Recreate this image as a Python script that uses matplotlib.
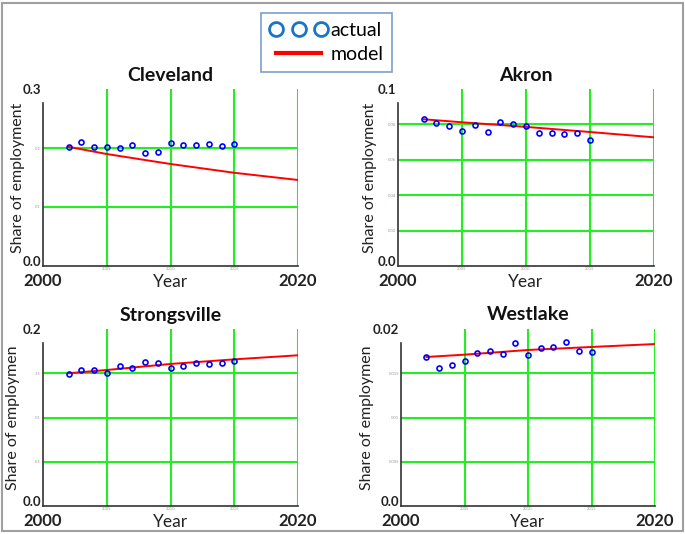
import numpy as np
import matplotlib
matplotlib.use("Agg")
import matplotlib.pyplot as plt
from matplotlib.lines import Line2D
from matplotlib.patches import Rectangle

plt.rcParams['font.family'] = ['Lato', 'DejaVu Sans']

# observed years and model anchor years
years = [2002, 2003, 2004, 2005, 2006, 2007, 2008, 2009, 2010, 2011, 2012, 2013, 2014, 2015]
model_years = [2002, 2005, 2010, 2015, 2020]

# actual share of employment
cleveland = [0.202, 0.210, 0.2017, 0.201, 0.2005, 0.2045, 0.1915, 0.1937, 0.208, 0.2057, 0.2057, 0.206, 0.204, 0.2062]
akron = [0.0831, 0.081, 0.0791, 0.0765, 0.0795, 0.0759, 0.0815, 0.0802, 0.0789, 0.0753, 0.0753, 0.0746, 0.0749, 0.0714]
strongsville = [0.1495, 0.1537, 0.1533, 0.1503, 0.1586, 0.156, 0.1631, 0.1612, 0.1556, 0.1586, 0.1616, 0.1601, 0.1616, 0.1638]
westlake = [0.0168, 0.01563, 0.0159, 0.01642, 0.01732, 0.01748, 0.01718, 0.01845, 0.01703, 0.01785, 0.01793, 0.0185, 0.01755, 0.01744]

# model lines
cleveland_model = [0.202, 0.1898, 0.1729, 0.158, 0.1458]
akron_model = [0.0829, 0.0812, 0.0786, 0.0757, 0.0727]
strongsville_model = [0.150, 0.1537, 0.1605, 0.1657, 0.1703]
westlake_model = [0.01684, 0.0171, 0.01763, 0.01797, 0.0183]

# small inner year labels
inner_years = [2005, 2010, 2015]

# panel settings: title, actual, model, ymax, y grid ticks, y labels, ylabel text
panels = [
    ("Cleveland", cleveland, cleveland_model, 0.3, [0.1, 0.2], ["0.1", "0.2"], "Share of employment"),
    ("Akron", akron, akron_model, 0.1, [0.02, 0.04, 0.06, 0.08], ["0.02", "0.04", "0.06", "0.08"], "Share of employment"),
    ("Strongsville", strongsville, strongsville_model, 0.2, [0.05, 0.1, 0.15], [".05", "0.1", ".15"], "Share of employmen"),
    ("Westlake", westlake, westlake_model, 0.02, [0.005, 0.01, 0.015], ["0.005", "0.01", "0.015"], "Share of employmen"),
]
ymax_labels = ["0.3", "0.1", "0.2", "0.02"]

W, H = 685, 534
# axes boxes in pixels: left, top, right, bottom
boxes = [(43, 89, 298, 266), (398, 89, 654, 266), (43, 329, 298, 506), (401, 329, 655, 506)]
ylabel_off = [25, 28, 30, 34]

fig = plt.figure(figsize=(W / 100, H / 100), dpi=100)
fig.patches.append(Rectangle((0.003, 0.005), 0.994, 0.99, transform=fig.transFigure,
                             fill=False, edgecolor='#a0a0a0', linewidth=1.5))

green = '#22ee22'
for (title, actual, model, ymax, gticks, glabels, ylab), ytop, (l, t, r, b), yoff in zip(
        panels, ymax_labels, boxes, ylabel_off):
    ax = fig.add_axes([l / W, 1 - b / H, (r - l) / W, (b - t) / H])
    ax.set_xlim(2000, 2020)
    ax.set_ylim(0, ymax)
    for g in gticks:
        ax.axhline(g, color=green, lw=1.5, zorder=1)
    for gx in inner_years + [2020]:
        ax.axvline(gx, color=green, lw=1.5, zorder=1)
    ax.plot(model_years, model, color='red', lw=1.4, zorder=2)
    ax.plot(years, actual, 'o', mfc='none', mec='blue', ms=3.6, mew=1.2, zorder=3)

    for s in ['top', 'right']:
        ax.spines[s].set_visible(False)
    ax.spines['left'].set_bounds(0, ymax * 0.92)
    for s in ['left', 'bottom']:
        ax.spines[s].set_color('#333333')
        ax.spines[s].set_linewidth(1.2)

    ax.set_yticks([0] + gticks + [ymax])
    ax.set_yticklabels(["0.0"] + glabels + [ytop])
    ax.set_xticks([2000, 2020])
    ax.set_xticklabels(["2000", "2020"], fontsize=12, fontweight='bold', color='#222222')
    ax.tick_params(axis='y', length=0, pad=1.5)
    ax.tick_params(axis='x', length=0, pad=5)
    ylabs = ax.get_yticklabels()
    for i, lab in enumerate(ylabs):
        if i == 0 or i == len(ylabs) - 1:
            lab.set_fontsize(9.5)
            lab.set_fontweight('bold')
            lab.set_color('#222222')
        else:
            lab.set_fontsize(3)
            lab.set_color('#999999')
    ylabs[0].set_va('baseline')

    h = b - t
    for yr in inner_years:
        ax.text(yr, -1.5 / h, str(yr), transform=ax.get_xaxis_transform(), ha='center', va='top',
                fontsize=3, color='#999999')
    ax.text(0.5, 1 + 14 / h, title, transform=ax.transAxes, ha='center', va='center',
            fontsize=14, fontweight='bold', color='#111111')
    ax.text(0.5, -16 / h, "Year", transform=ax.transAxes, ha='center', va='center',
            fontsize=12.5, color='#222222')
    ax.text(-yoff / (r - l), 0.5, ylab, transform=ax.transAxes, ha='center', va='center',
            rotation=90, fontsize=11.5, color='#222222')

handles = [Line2D([], [], marker='o', ls='none', mfc='none', mec='#1a75c8', ms=10, mew=2),
           Line2D([], [], color='red', lw=3)]
leg = fig.legend(handles, ["actual", "model"], loc='center', bbox_to_anchor=(326.5 / W, 1 - 42.5 / H),
                 numpoints=3, handlelength=2.95, handletextpad=0.15, fontsize=14,
                 fancybox=False, borderpad=0.45, labelspacing=0.35, borderaxespad=0)
leg.get_frame().set_edgecolor('#5a88c0')
leg.get_frame().set_linewidth(1.2)

fig.savefig("out.png", dpi=100)
